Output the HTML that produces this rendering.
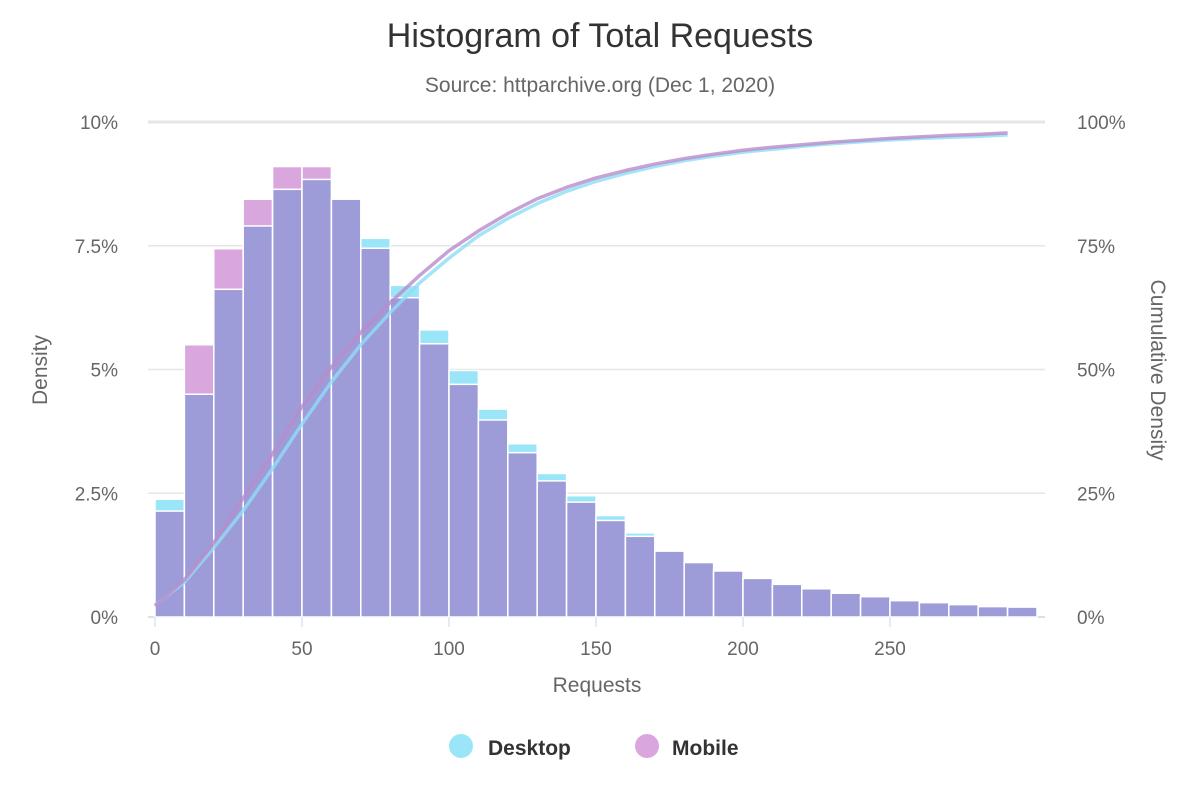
<!DOCTYPE html>
<html><head><meta charset="utf-8"><style>
body{margin:0;background:#fff;font-family:"Liberation Sans",sans-serif}
svg text{font-family:"Liberation Sans",sans-serif}
</style></head><body>
<svg id="c" width="1200" height="800">
<text x="600" y="47" text-anchor="middle" font-size="34" fill="#333">Histogram of Total Requests</text>
<text x="600" y="92" text-anchor="middle" font-size="21" fill="#666">Source: httparchive.org (Dec 1, 2020)</text>
<text x="597" y="692" text-anchor="middle" font-size="21" fill="#666">Requests</text>
<text transform="translate(47,370) rotate(-90)" text-anchor="middle" font-size="21" fill="#666">Density</text>
<text transform="translate(1151,370) rotate(90)" text-anchor="middle" font-size="21" fill="#666">Cumulative Density</text>
<g id="grid"></g><g id="bars"></g><g id="lines"></g><g id="ticks"></g>
<g>
<g><circle cx="461" cy="746" r="12" fill="#9ae6f8"/><text x="488" y="755" font-size="21" font-weight="bold" fill="#333">Desktop</text></g>
<g><circle cx="647" cy="746" r="12" fill="#d9a6dd"/><text x="672" y="755" font-size="21" font-weight="bold" fill="#333">Mobile</text></g>
</g>
</svg>
<script>
const binStarts=[0,10,20,30,40,50,60,70,80,90,100,110,120,130,140,150,160,170,180,190,200,210,220,230,240,250,260,270,280,290];
const desktop=[2.38,4.5,6.62,7.9,8.64,8.84,8.44,7.65,6.7,5.8,4.98,4.2,3.5,2.9,2.45,2.05,1.7,1.33,1.1,0.93,0.78,0.66,0.57,0.48,0.41,0.33,0.29,0.25,0.21,0.2];
const mobile=[2.14,5.5,7.44,8.44,9.1,9.1,8.44,7.45,6.45,5.52,4.7,3.98,3.32,2.75,2.32,1.95,1.63,1.33,1.1,0.93,0.78,0.66,0.57,0.48,0.41,0.33,0.29,0.25,0.21,0.2];
const cumDesktop=[2.4,7,14,21.5,30,39,47.5,55,61.5,67.5,72.5,77,80.5,83.5,86,88,89.6,91,92.2,93.1,93.9,94.5,95.1,95.6,96,96.4,96.7,96.9,97.1,97.4];
const cumMobile=[2.2,7.5,15,24,33,42.5,50.5,57.5,63.5,69,74,78,81.5,84.5,86.8,88.7,90.2,91.5,92.6,93.5,94.3,94.9,95.4,95.9,96.3,96.7,97,97.3,97.5,97.8];
const yTicks=[0,2.5,5,7.5,10];
const yLabels=["0%","2.5%","5%","7.5%","10%"];
const y2Labels=["0%","25%","50%","75%","100%"];
const xTicks=[0,50,100,150,200,250];
const NS="http://www.w3.org/2000/svg";
const X=v=>155+v*2.94, Y=v=>617-v*49.5, Y2=v=>617-v*4.95;
function mk(t,a,p){const e=document.createElementNS(NS,t);for(const k in a)e.setAttribute(k,a[k]);p.appendChild(e);return e;}
const grid=document.getElementById('grid'),bars=document.getElementById('bars'),lines=document.getElementById('lines'),ticks=document.getElementById('ticks');
yTicks.forEach((t,i)=>{
 const l=mk('line',{x1:148,x2:1045,y1:Y(t),y2:Y(t),stroke:i==0?'#ccd6eb':'#e6e6e6','stroke-width':i==4?3:1.5},grid);
 
 
 const a=mk('text',{x:118,y:Y(t)+7,'text-anchor':'end','font-size':19,fill:'#666'},ticks);a.textContent=yLabels[i];
 
 
 const b=mk('text',{x:1077,y:Y(t)+7,'font-size':19,fill:'#666'},ticks);b.textContent=y2Labels[i];
 
 
});
xTicks.forEach(t=>{
 const a=mk('text',{x:X(t),y:655,'text-anchor':'middle','font-size':19,fill:'#666'},ticks);a.textContent=t;
 
 
 const m=mk('line',{x1:X(t),x2:X(t),y1:617,y2:627,stroke:'#ccd6eb'},ticks);
 
 
});
binStarts.forEach((s,i)=>{
 const x0=X(s),w=X(s+10)-x0;
 const d=desktop[i],m=mobile[i],hi=Math.max(d,m),lo=Math.min(d,m);
 const top=mk('rect',{x:x0,y:Y(hi),width:w,height:Y(0)-Y(hi),fill:d>=m?'#9ae6f8':'#d9a6dd',stroke:'#fff','stroke-width':1.5},bars);
 
 
 const ov=mk('rect',{x:x0,y:Y(lo),width:w,height:Y(0)-Y(lo),fill:'#9e9bd9',stroke:'#fff','stroke-width':1.5},bars);
 
 
});
function path(arr,col,name){
 const p=mk('path',{d:arr.map((v,i)=>(i?'L':'M')+X(binStarts[i])+','+Y2(v)).join(''),fill:'none',stroke:col,'stroke-width':3.5,'stroke-opacity':0.8,'stroke-linejoin':'round'},lines);
 
 
}
path(cumDesktop,'#8fdcf5','cumulative-desktop-line');
path(cumMobile,'#b98ccb','cumulative-mobile-line');
</script>
</body></html>
